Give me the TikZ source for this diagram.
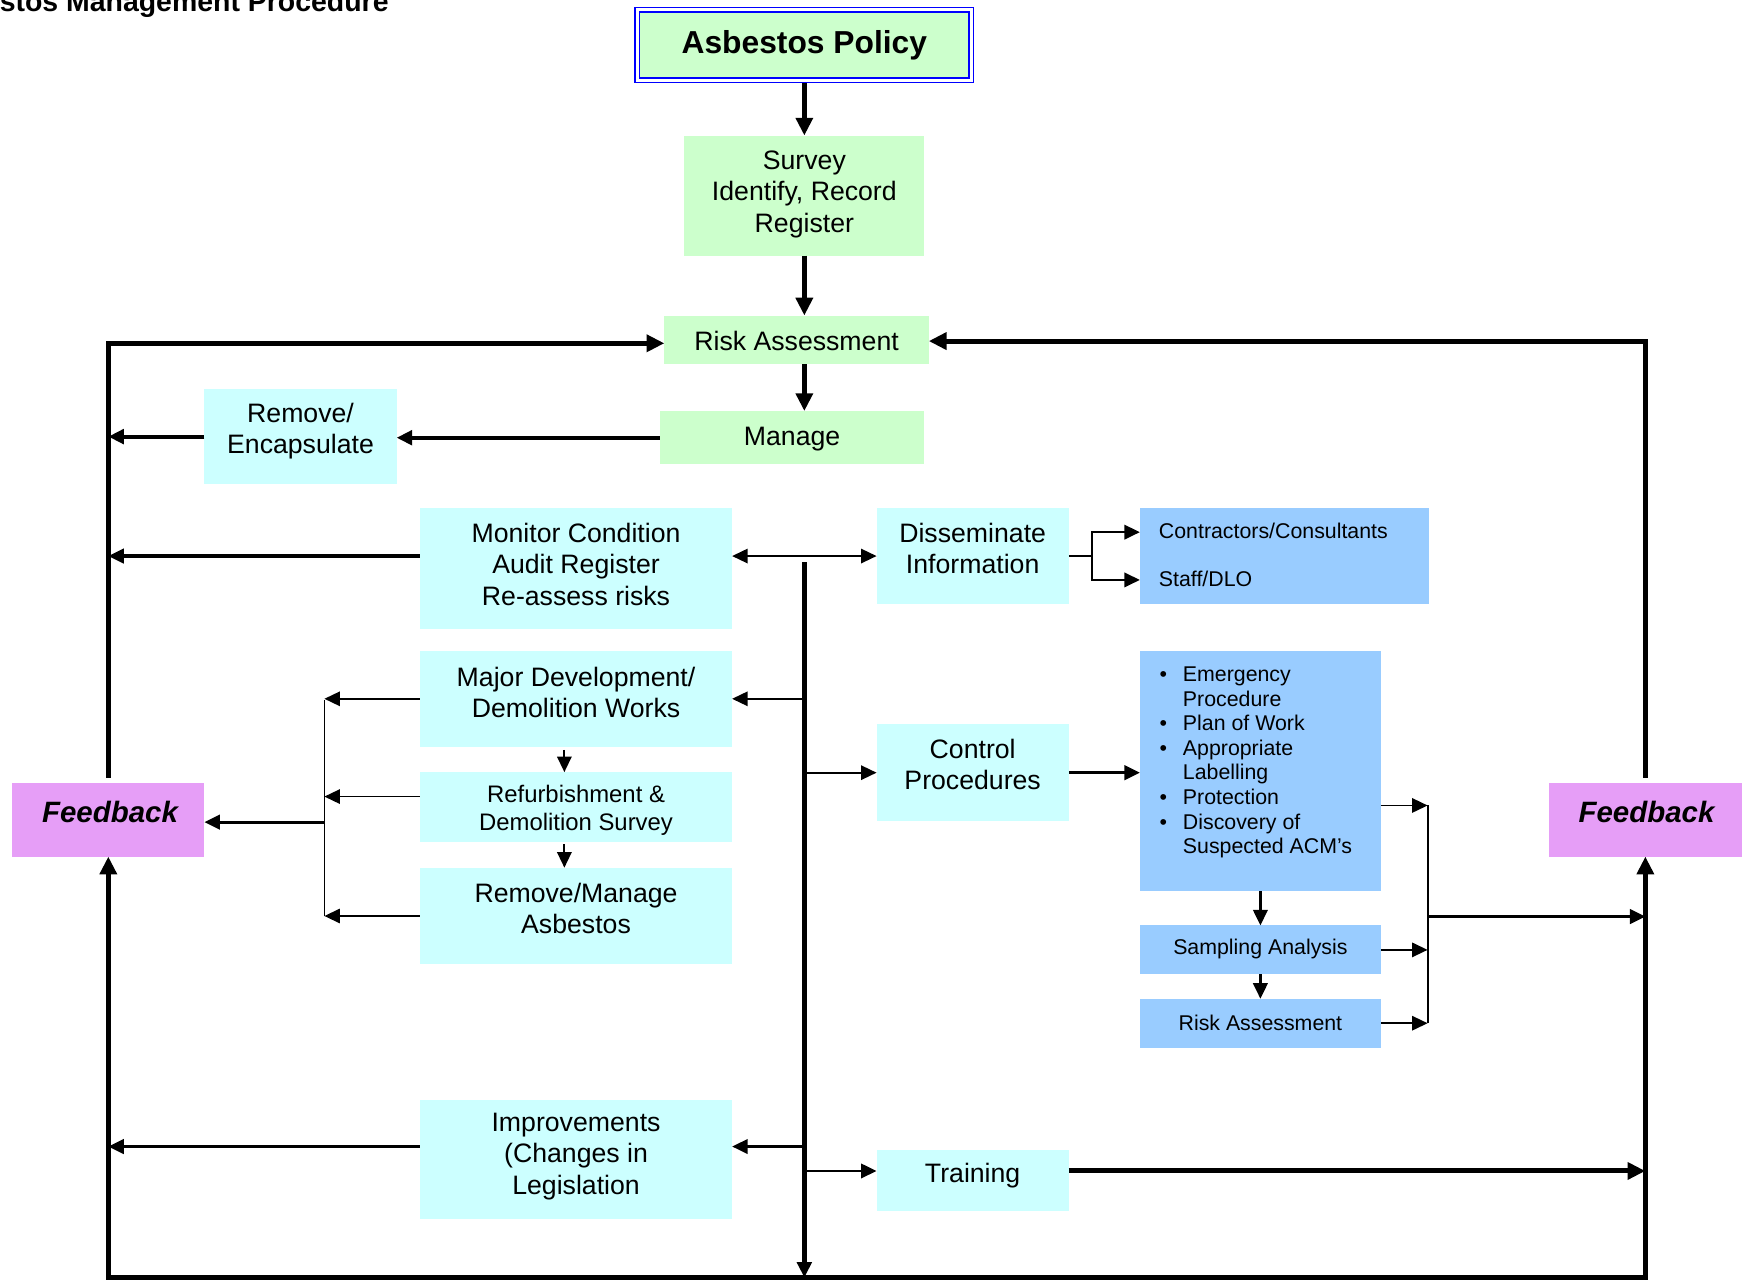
\documentclass[tikz,border=0pt]{standalone}
\usepackage{fontspec}
\setmainfont{Liberation Sans}
\usetikzlibrary{arrows.meta,calc}
\definecolor{lgreen}{RGB}{204,255,204}
\definecolor{lcyan}{RGB}{204,255,255}
\definecolor{lblue}{RGB}{153,204,255}
\definecolor{fbpink}{RGB}{230,158,247}
\definecolor{polblue}{RGB}{0,0,255}
\begin{document}
\begin{tikzpicture}[x=1pt,y=-1pt,
  >={Triangle[length=14pt,width=13pt]},
  boxbase/.style={rectangle,inner sep=0pt,outer sep=0pt,draw=none},
  boxG/.style={boxbase,fill=lgreen},
  boxC/.style={boxbase,fill=lcyan},
  boxB/.style={boxbase,fill=lblue},
  boxF/.style={boxbase,fill=fbpink},
  txt/.style={inner sep=0pt,align=center,font=\fontsize{24}{28}\selectfont},
  stxt/.style={inner sep=0pt,align=center,font=\fontsize{19.2}{22}\selectfont},
  fbtxt/.style={inner sep=0pt,font=\bfseries\itshape\fontsize{26.5}{30}\selectfont},
  lnA/.style={line width=4.5pt},
  lnB/.style={line width=3.6pt},
  lnM/.style={line width=2.8pt},
  lnS/.style={line width=2.2pt},
  lnC/.style={line width=1.6pt},
  bigtip/.style={>={Triangle[length=16pt,width=15pt]}},
]
\useasboundingbox (0,0) rectangle (1568,1153);

% title
\node[inner sep=0pt, anchor=base east, font=\bfseries\fontsize{25.6}{30}\selectfont] (title) at (350,10) {stos Management Procedure};

% ---------- boxes ----------
\node[boxG, draw=polblue, double=white, line width=1.6pt, double distance=2.3pt, outer sep=2.75pt,
      minimum width=300.5pt, minimum height=63.5pt,
      font=\bfseries\fontsize{28.6}{32}\selectfont] (pol) at (724,40.5) {Asbestos Policy};

\node[boxG, minimum width=216pt, minimum height=108pt] (surv) at (724,176) {};
\node[txt] (survT) at (724,175) {Survey\\Identify, Record\\Register};

\node[boxG, minimum width=238pt, minimum height=44pt] (ra) at (717,306) {};
\node[txt] (raT) at (717,307) {Risk Assessment};

\node[boxG, minimum width=238pt, minimum height=48pt] (man) at (713,394) {};
\node[txt] (manT) at (713,395) {Manage};

\node[boxC, minimum width=173pt, minimum height=86pt] (rem) at (270.5,393) {};
\node[txt] (remT) at (270.5,388) {Remove/\\Encapsulate};

\node[boxC, minimum width=281pt, minimum height=109pt] (mon) at (518.5,511.5) {};
\node[txt] (monT) at (518.5,508) {Monitor Condition\\Audit Register\\Re-assess risks};

\node[boxC, minimum width=173pt, minimum height=87pt] (dis) at (875.5,500.5) {};
\node[txt] (disT) at (875.5,494) {Disseminate\\Information};

\node[boxB, minimum width=260pt, minimum height=87pt] (con) at (1156,500.5) {};
\node[inner sep=0pt, align=left, anchor=west, font=\fontsize{19.2}{43}\selectfont] (conT) at (1043,499.5) {Contractors/Consultants\\Staff/DLO};

\node[boxC, minimum width=281pt, minimum height=86pt] (maj) at (518.5,629) {};
\node[txt] (majT) at (518.5,623) {Major Development/\\Demolition Works};

\node[boxC, minimum width=281pt, minimum height=63pt] (ref) at (518.5,726.5) {};
\node[inner sep=0pt, align=center, font=\fontsize{21.5}{25}\selectfont] (refT) at (518.5,729.5) {Refurbishment \&\\Demolition Survey};

\node[boxC, minimum width=281pt, minimum height=87pt] (rma) at (518.5,824.5) {};
\node[txt] (rmaT) at (518.5,818) {Remove/Manage\\Asbestos};

\node[boxC, minimum width=173pt, minimum height=87pt] (ctl) at (875.5,695.5) {};
\node[txt] (ctlT) at (875.5,688) {Control\\Procedures};

\node[boxB, minimum width=217pt, minimum height=216pt] (bul) at (1134.5,694) {};
\node[inner sep=0pt, anchor=north west, font=\fontsize{19.2}{22.1}\selectfont] (bulT) at (1043.6,598)
  {\begin{tabular}{@{}l@{}l@{}}
   \makebox[21pt][l]{\textbullet} & Emergency\\
    & Procedure\\
   \makebox[21pt][l]{\textbullet} & Plan of Work\\
   \makebox[21pt][l]{\textbullet} & Appropriate\\
    & Labelling\\
   \makebox[21pt][l]{\textbullet} & Protection\\
   \makebox[21pt][l]{\textbullet} & Discovery of\\
    & Suspected ACM’s
   \end{tabular}};

\node[boxB, minimum width=217pt, minimum height=44pt] (samp) at (1134.5,855) {};
\node[stxt] (sampT) at (1134.5,854) {Sampling Analysis};

\node[boxB, minimum width=217pt, minimum height=44pt] (rab) at (1134.5,921) {};
\node[stxt] (rabT) at (1134.5,921) {Risk Assessment};

\node[boxF, minimum width=173pt, minimum height=66pt] (fbl) at (97.5,738) {};
\node[fbtxt] (fblT) at (99,731) {Feedback};

\node[boxF, minimum width=174pt, minimum height=66pt] (fbr) at (1481,738) {};
\node[fbtxt] (fbrT) at (1482,731) {Feedback};

\node[boxC, minimum width=281pt, minimum height=107pt] (imp) at (518.5,1043.5) {};
\node[txt] (impT) at (518.5,1041) {Improvements\\(Changes in\\Legislation};

\node[boxC, minimum width=173pt, minimum height=55pt] (trn) at (875.5,1062.5) {};
\node[txt] (trnT) at (875.5,1058) {Training};

% ---------- junction coordinates ----------
\coordinate (LT) at (97.5,309);
\coordinate (LB) at (97.5,1150);
\coordinate (RT) at (1481,307);
\coordinate (RB) at (1481,1150);
\coordinate (CT) at (724,506);
\coordinate (ci) at (724,1032);
\coordinate (ct) at (724,1054);
\coordinate (dj) at (983,500.5);
\coordinate (bj1) at (1285,725);
\coordinate (bj2) at (1285,825);
\coordinate (lb1) at (292,630);
\coordinate (lb2) at (292,717);
\coordinate (lb3) at (292,740);
\coordinate (mx) at (508,700);

% ---------- main spine ----------
\draw[lnA,->,bigtip] (pol) -- (surv);
\draw[lnA,->,bigtip] (surv.south) -- (surv.south |- ra.north);
\draw[lnA,->,bigtip] (surv.south |- ra.south) -- (surv.south |- man.north);

\draw[lnB,->] (man.west) -- (man.west -| rem.east);
\draw[lnB,->] (rem.west) -- (rem.west -| LT);

% feedback loops
\draw[lnA,->,bigtip] ([yshift=5pt]fbl.north) -- (LT) -- (ra.west |- LT);
\draw[lnA,->,bigtip] ([yshift=5pt]fbr.north) -- (RT) -- (ra.east |- RT);
\draw[lnA,<->,bigtip] (fbl.south) -- (LB) -- (RB) -- (fbr.south);

% central distribution line
\draw[lnA,->] (CT) -- (CT |- LB);

\draw[lnC,<->] (mon.east |- dis.west) -- (dis.west);
\draw[lnM,->] (mon.west |- dis.west) -- (LT |- dis.west);

\draw[lnC,->] (CT |- maj.east) -- (maj.east);
\draw[lnC,->] (CT |- ctl.west) -- (ctl.west);
\draw[lnS,->] (ci) -- (ci -| imp.east);
\draw[lnS,->] (ct) -- (ct -| trn.west);
\draw[lnM,->] (ci -| imp.west) -- (ci -| LT);
\draw[lnA,->,bigtip] (ct -| trn.east) -- (ct -| RT);

% disseminate
\draw[lnS] (dis.east) -- (dj);
\draw[lnS,->] (dj) |- ($(con.west)+(0,-21.5)$);
\draw[lnS,->] (dj) |- ($(con.west)+(0,21.5)$);

% control procedures
\draw[lnM,->] (ctl.east) -- (ctl.east -| bul.west);
\draw[lnS,->] (bul.south) -- (samp.north);
\draw[lnS,->] (samp.south) -- (rab.north);
\draw[lnC,->] (bul.east |- bj1) -- (bj1);
\draw[lnC,->] (samp.east) -- (samp.east -| bj1);
\draw[lnC,->] (rab.east) -- (rab.east -| bj1);
\draw[lnC] (bj1) -- (bj1 |- rab.east);
\draw[lnM,->] (bj2) -- (bj2 -| RT);

% major development group
\draw[lnC,->] (maj.west) -- (maj.west -| lb1);
\draw[lnC,->] (ref.west |- lb2) -- (lb2);
\draw[lnC,->] (rma.west) -- (rma.west -| lb1);
\draw[lnC] (lb1) -- (lb1 |- rma.west);
\draw[lnM,->] (lb3) -- (lb3 -| fbl.east);
\draw[lnC,->] ([yshift=-3pt]maj.south -| mx) -- (ref.north -| mx);
\draw[lnC,->] ([yshift=-2pt]ref.south -| mx) -- (rma.north -| mx);

\end{tikzpicture}
\end{document}
